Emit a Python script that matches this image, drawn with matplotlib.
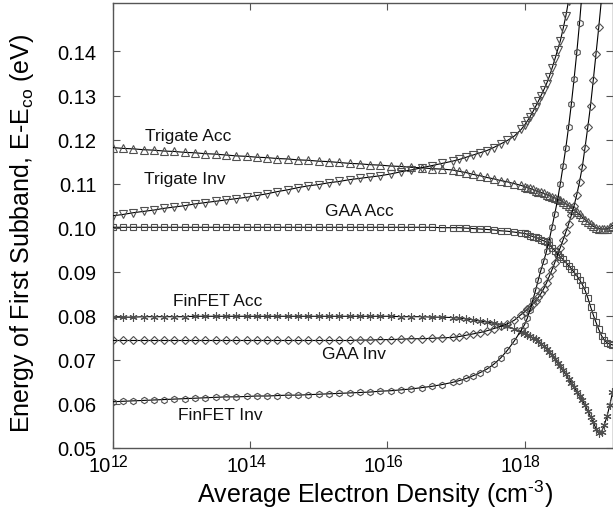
import numpy as np
import matplotlib
matplotlib.use("Agg")
import matplotlib.pyplot as plt
from matplotlib.ticker import FixedLocator, NullFormatter

plt.rcParams['font.family'] = ['Liberation Sans', 'DejaVu Sans']
plt.rcParams['mathtext.fontset'] = 'custom'
plt.rcParams['mathtext.rm'] = 'Liberation Sans'
plt.rcParams['mathtext.it'] = 'Liberation Sans:italic'
plt.rcParams['mathtext.bf'] = 'Liberation Sans:bold'

nan = np.nan

# log10 of average electron density (cm^-3)
log_density = [
    12.00, 12.15, 12.30, 12.45, 12.60, 12.75, 12.90, 13.05, 13.20, 13.35,
    13.50, 13.65, 13.80, 13.95, 14.10, 14.25, 14.40, 14.55, 14.70, 14.85,
    15.00, 15.15, 15.30, 15.45, 15.60, 15.75, 15.90, 16.05, 16.20, 16.35,
    16.50, 16.65, 16.80, 16.95,
    17.05, 17.15, 17.25, 17.35, 17.45, 17.55, 17.65, 17.75, 17.85, 17.95,
    18.00, 18.04, 18.08, 18.12, 18.16, 18.20, 18.24, 18.28, 18.32, 18.36,
    18.40, 18.44, 18.48, 18.52, 18.56, 18.60, 18.64, 18.68, 18.72, 18.76,
    18.80, 18.84, 18.88, 18.92, 18.96, 19.00, 19.04, 19.08, 19.12, 19.16,
    19.20, 19.24, 19.28,
]

trigate_acc = [
    .1182, .1180, .1179, .1177, .1176, .1174, .1173, .1171, .1170, .1168,
    .1167, .1165, .1163, .1162, .1160, .1159, .1157, .1156, .1154, .1153,
    .1151, .1150, .1148, .1146, .1145, .1143, .1142, .1140, .1139, .1137,
    .1136, .1134, .1133, .1131,
    .1128, .1125, .1121, .1118, .1114, .1111, .1107, .1104, .1100, .1096,
    .1093, .1091, .1089, .1087, .1084, .1082, .1080, .1078, .1075, .1073,
    .1070, .1068, .1065, .1062, .1058, .1054, .1050, .1045, .1040, .1035,
    .1030, .1024, .1018, .1013, .1008, .1003, .1000, .0998, .0997, .0997,
    .0998, .1001, .1005,
]

trigate_inv = [
    .1027, .1030, .1034, .1037, .1040, .1044, .1047, .1050, .1054, .1057,
    .1060, .1063, .1066, .1069, .1073, .1077, .1082, .1086, .1091, .1095,
    .1098, .1102, .1105, .1109, .1112, .1115, .1118, .1122, .1127, .1131,
    .1136, .1141, .1146, .1151,
    .1155, .1160, .1165, .1170, .1175, .1182, .1190, .1198, .1208, .1223,
    .1233, .1242, .1252, .1263, .1275, .1287, .1300, .1313, .1327, .1343,
    .1362, .1382, .1403, .1424, .1451, .1480, .1515, .1550, nan, nan,
    nan, nan, nan, nan, nan, nan, nan, nan, nan, nan,
    nan, nan, nan,
]

gaa_acc = [
    .1001, .1001, .1001, .1001, .1001, .1001, .1001, .1001, .1001, .1001,
    .1001, .1001, .1001, .1001, .1001, .1001, .1001, .1001, .1001, .1001,
    .1001, .1001, .1001, .1001, .1001, .1001, .1001, .1001, .1001, .1001,
    .1001, .1001, .1000, .1000,
    .1000, .0999, .0998, .0997, .0996, .0995, .0993, .0992, .0990, .0988,
    .0987, .0985, .0982, .0980, .0978, .0976, .0973, .0970, .0967, .0961,
    .0955, .0948, .0941, .0934, .0928, .0921, .0914, .0907, .0899, .0891,
    .0882, .0871, .0858, .0841, .0821, .0802, .0785, .0769, .0755, .0745,
    .0739, .0736, .0734,
]

finfet_acc = [
    .0797, .0797, .0797, .0798, .0798, .0798, .0798, .0798, .0799, .0799,
    .0799, .0799, .0799, .0799, .0799, .0799, .0799, .0799, .0799, .0799,
    .0799, .0799, .0799, .0799, .0799, .0799, .0799, .0799, .0798, .0798,
    .0798, .0797, .0797, .0796,
    .0795, .0793, .0791, .0788, .0786, .0783, .0780, .0776, .0770, .0764,
    .0760, .0757, .0754, .0750, .0747, .0743, .0737, .0731, .0725, .0718,
    .0711, .0703, .0694, .0685, .0676, .0667, .0657, .0648, .0638, .0628,
    .0618, .0608, .0597, .0584, .0571, .0558, .0544, .0534, .0537, .0552,
    .0572, .0597, .0626,
]

gaa_inv = [
    .0744, .0744, .0744, .0744, .0744, .0744, .0744, .0744, .0744, .0744,
    .0744, .0744, .0744, .0744, .0744, .0744, .0744, .0744, .0744, .0744,
    .0744, .0744, .0744, .0744, .0745, .0745, .0746, .0746, .0747, .0748,
    .0748, .0749, .0750, .0751,
    .0753, .0756, .0759, .0762, .0766, .0771, .0776, .0782, .0790, .0803,
    .0809, .0815, .0821, .0827, .0834, .0842, .0851, .0862, .0875, .0890,
    .0905, .0921, .0939, .0955, .0972, .0990, .1008, .1028, .1050, .1075,
    .1104, .1138, .1182, .1228, .1277, .1335, .1395, .1455, .1520, .1590,
    nan, nan, nan,
]

finfet_inv = [
    .0605, .0606, .0607, .0608, .0609, .0610, .0611, .0612, .0613, .0614,
    .0615, .0616, .0616, .0617, .0618, .0618, .0619, .0620, .0620, .0621,
    .0622, .0623, .0624, .0625, .0626, .0627, .0629, .0630, .0632, .0634,
    .0637, .0640, .0644, .0649,
    .0653, .0658, .0664, .0671, .0679, .0690, .0704, .0722, .0743, .0767,
    .0780, .0795, .0814, .0836, .0858, .0882, .0905, .0925, .0947, .0973,
    .1002, .1032, .1063, .1100, .1140, .1181, .1228, .1280, .1337, .1398,
    .1465, .1540, nan, nan, nan, nan, nan, nan, nan, nan,
    nan, nan, nan,
]

series_names = ["Trigate Acc", "Trigate Inv", "GAA Acc", "FinFET Acc", "GAA Inv", "FinFET Inv"]
series_values = [trigate_acc, trigate_inv, gaa_acc, finfet_acc, gaa_inv, finfet_inv]
markers = ['^', 'v', 's', (6, 2, 0), 'D', 'h']
marker_sizes = [5.2, 5.2, 4.6, 5.8, 4.2, 4.6]

# label positions (log10 density, energy)
label_pos = {
    "Trigate Acc": (13.10, 0.1209),
    "Trigate Inv": (13.05, 0.1111),
    "GAA Acc": (15.60, 0.1039),
    "FinFET Acc": (13.53, 0.0834),
    "GAA Inv": (15.51, 0.0714),
    "FinFET Inv": (13.57, 0.0576),
}

y_ticks = [0.05, 0.06, 0.07, 0.08, 0.09, 0.10, 0.11, 0.12, 0.13, 0.14]
y_tick_labels = ["0.05", "0.06", "0.07", "0.08", "0.09", "0.10", "0.11", "0.12", "0.13", "0.14"]
x_tick_exps = [12, 14, 16, 18]

fig = plt.figure(figsize=(6.13, 5.10), dpi=100)
ax = fig.add_axes([112.6 / 613, 1 - 449 / 510, (612.5 - 112.6) / 613, (449 - 4) / 510])

x = 10 ** np.array(log_density)
for name, vals, mk, ms in zip(series_names, series_values, markers, marker_sizes):
    ax.plot(x, vals, color='black', lw=0.8, marker=mk, markersize=ms,
            markerfacecolor='none', markeredgecolor='#505050', markeredgewidth=0.8,
            clip_on=True, zorder=3)

for name, (lx, ly) in label_pos.items():
    ax.text(10 ** lx, ly, name, fontsize=12.5, ha='center', va='center', color='#111111')

ax.set_xscale('log')
ax.set_xlim(1e12, 10 ** 19.28)
ax.set_ylim(0.05, 0.151)
ax.xaxis.set_major_locator(FixedLocator([10.0 ** e for e in x_tick_exps]))
ax.xaxis.set_major_formatter(NullFormatter())
ax.xaxis.set_minor_locator(FixedLocator([]))
ax.xaxis.set_minor_formatter(NullFormatter())
ax.set_yticks(y_ticks)
ax.set_yticklabels(y_tick_labels)
ax.tick_params(axis='both', which='both', direction='in', top=True, right=True,
               length=5, width=0.8, color='#555555', labelsize=14.5)
ax.tick_params(axis='y', pad=11.5)
for sp in ax.spines.values():
    sp.set_color('#555555')
    sp.set_linewidth(1.0)

# x tick labels as "10" with a large superscript exponent
for e in x_tick_exps:
    ax.annotate("10", xy=(10.0 ** e, 0), xycoords=('data', 'axes fraction'),
                xytext=(-1.0, -16.8), textcoords='offset points',
                ha='right', va='baseline', fontsize=14.5, annotation_clip=False)
    ax.annotate(str(e), xy=(10.0 ** e, 0), xycoords=('data', 'axes fraction'),
                xytext=(-1.0, -13.2), textcoords='offset points',
                ha='left', va='baseline', fontsize=11.5, annotation_clip=False)

ax.set_xlabel(r"Average Electron Density (cm$^{\mathrm{‐3}}$)", fontsize=18)
ax.xaxis.set_label_coords((375 - 112.6) / 500, -0.066)
ax.set_ylabel(r"Energy of First Subband, E-E$_{\mathrm{co}}$ (eV)", fontsize=18)
ax.yaxis.set_label_coords(-0.153, 0.485)

fig.savefig("out.png", dpi=100)
